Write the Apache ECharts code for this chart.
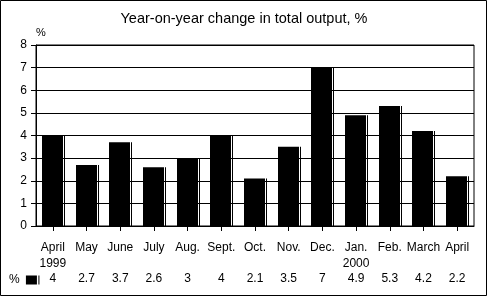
<!DOCTYPE html>
<html><head><meta charset="utf-8">
<script src="https://cdn.jsdelivr.net/npm/echarts@6/dist/echarts.min.js"></script>
<style>html,body{margin:0;padding:0;background:#fff}#c{width:488px;height:297px}</style>
</head><body><div id="c"></div>
<script>
const categories = ['April\n1999','May','June','July','Aug.','Sept.','Oct.','Nov.','Dec.','Jan.\n2000','Feb.','March','April'];
const values = [4, 2.7, 3.7, 2.6, 3, 4, 2.1, 3.5, 7, 4.9, 5.3, 4.2, 2.2];
const yTicks = [0,1,2,3,4,5,6,7,8];
const seriesName = '%';
const titleText = 'Year-on-year change in total output, %';

const FONT = '"Liberation Sans", Arial, sans-serif';
const chart = echarts.init(document.getElementById('c'), null, {renderer:'canvas'});
chart.setOption({
  backgroundColor: '#fff',
  animation: false,
  title: { text: titleText, left: 'center', top: 6,
    textStyle: { fontFamily: FONT, fontSize: 14.5, fontWeight: 'normal', color: '#000' } },
  legend: { left: 9, top: 274, padding: 0, align: 'right', itemWidth: 14, itemHeight: 9, itemGap: 0,
    data: [{ name: seriesName, icon: 'path://M0 0H11V9H0Z M12.5 0H13.5V9H12.5Z' }],
    textStyle: { fontFamily: FONT, fontSize: 12, color: '#000', padding: [0,1,0,0] },
    itemStyle: { color: '#000' } },
  grid: { left: 36, right: 14, top: 45, bottom: 71, show: true, borderColor: '#000', borderWidth: 1 },
  xAxis: [{
    type: 'category', data: categories, position: 'bottom',
    axisLine: { lineStyle: { color: '#000', width: 1 } },
    axisTick: { show: true, alignWithLabel: true, length: 5, lineStyle: { color: '#000' } },
    axisLabel: { color: '#000', fontFamily: FONT, fontSize: 12, margin: 14, lineHeight: 16, interval: 0 }
  },{
    type: 'category', data: values.map(String), position: 'bottom', offset: 47,
    axisLine: { show: false }, axisTick: { show: false },
    axisLabel: { color: '#000', fontFamily: FONT, fontSize: 12, margin: 0, interval: 0 }
  }],
  yAxis: {
    type: 'value', min: yTicks[0], max: yTicks[yTicks.length-1], interval: 1,
    name: '%', nameLocation: 'end', nameGap: 7,
    nameTextStyle: { color: '#000', fontFamily: FONT, fontSize: 11, align: 'left' },
    axisLine: { show: true, lineStyle: { color: '#000' } },
    axisTick: { show: true, length: 5, lineStyle: { color: '#000' } },
    splitLine: { show: true, lineStyle: { color: '#000', width: 1 } },
    axisLabel: { color: '#000', fontFamily: FONT, fontSize: 12, margin: 9 }
  },
  series: [{
    name: seriesName, type: 'custom', xAxisIndex: 0,
    itemStyle: { color: '#000' },
    data: values.map((v,i)=>[i, v]),
    renderItem: function(params, api){
      const top = api.coord([api.value(0), api.value(1)]);
      const base = api.coord([api.value(0), 0]);
      const cx = Math.round(top[0]);
      const h = base[1] - top[1];
      return { type: 'group', children: [
        { type: 'rect', shape: { x: cx - 11, y: top[1], width: 21, height: h }, style: { fill: '#000' } },
        { type: 'rect', shape: { x: cx + 11, y: top[1], width: 1, height: h }, style: { fill: '#000' } }
      ]};
    }
  }],
  graphic: [{ type: 'rect', shape: { x: 0.5, y: 0.5, width: 486, height: 295 },
    style: { fill: 'none', stroke: '#000', lineWidth: 1 }, silent: true }]
});
</script></body></html>
